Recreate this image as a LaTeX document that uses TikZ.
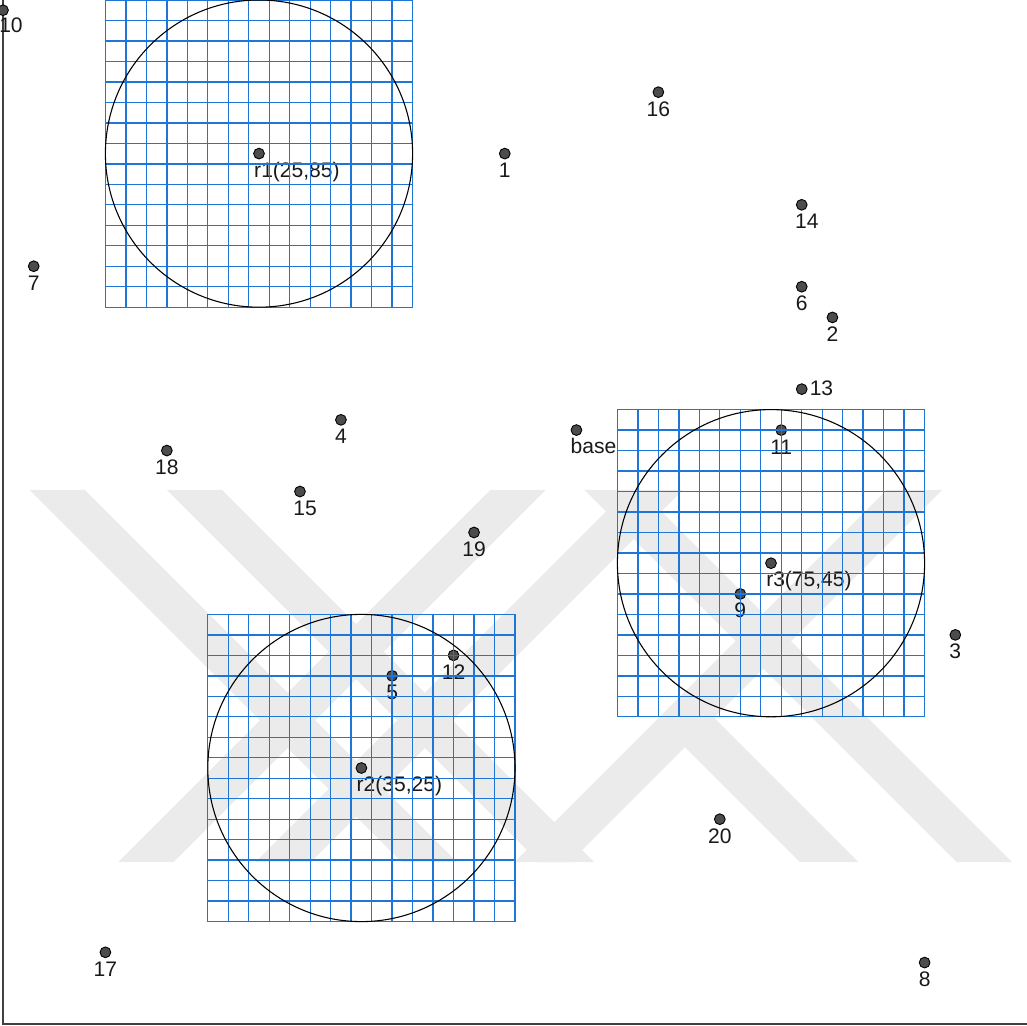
\documentclass[tikz,border=0pt]{standalone}
\usepackage{fontspec}
\setmainfont{Liberation Sans}
\usepackage{xcolor}
\usepackage{tikz}
\usetikzlibrary{positioning}

\definecolor{gridblue}{RGB}{30,118,214}
\definecolor{markgray}{RGB}{235,235,235}

\begin{document}
\begin{tikzpicture}[
  x=0.2cm, y=0.2cm,
  sensor/.style={circle, draw=black, fill=black!70, line width=0.5pt, minimum size=2.1mm, inner sep=0pt},
  lbl/.style={inner sep=0pt, font=\fontsize{11.7}{14}\selectfont, text=black!90},
  gridline/.style={draw=gridblue, line width=0.75pt},
  coverage/.style={draw=black, line width=0.6pt},
  fieldline/.style={draw=black!75, line width=0.7pt},
  wmark/.style={fill=markgray, draw=none}
]
\useasboundingbox (-0.293,-0.098) rectangle (100,100);

% watermark bands
\foreach \l/\d in {2.6/1, 16.0/1, 56.8/1, 47.6/-1, 61.0/-1, 86.3/-1}
  \fill[wmark] (\l,52.15) -- ++(5.4,0) -- ++(\d*36.33,-36.33) -- ++(-5.4,0) -- cycle;
\fill[wmark] (63.9,29.75) -- (66.75,32.6) -- (83.53,15.82) -- (77.83,15.82) -- cycle;

\draw[fieldline] (0,100) -- (0,0) -- (100,0);

% sensor nodes
\foreach \name/\x/\y/\dx in {1/49/85/0, 2/81/69/0, 3/93/38/0, 4/33/59/0, 5/38/34/0,
    6/78/72/0, 7/3/74/0, 8/90/6/0, 9/72/42/0, 11/76/58/0, 12/44/36/0,
    14/78/80/0.5, 15/29/52/0.5, 16/64/91/0, 17/10/7/0, 18/16/56/0,
    19/46/48/0, 20/70/20/0} {
  \node[sensor] (p\name) at (\x,\y) {};
  \node[lbl, anchor=base] (l\name) at ([shift={(\dx,-2.35)}]p\name.center) {\name};
}
\node[sensor] (p10) at (0,99) {};
\node[lbl, anchor=base west] (l10) at ([shift={(-0.4,-2.2)}]p10.center) {10};
\node[sensor] (p13) at (78,62) {};
\node[lbl, anchor=base west] (l13) at ([shift={(0.75,-0.65)}]p13.center) {13};
\node[sensor] (base) at (56,58) {};
\node[lbl, anchor=base west] (lbase) at ([shift={(-0.6,-2.3)}]base.center) {base};

% rendezvous points
\foreach \r/\x/\y in {1/25/85, 2/35/25, 3/75/45} {
  \node[sensor] (r\r) at (\x,\y) {};
  \node[lbl, anchor=base west] (lr\r) at ([shift={(-0.5,-2.3)}]r\r.center) {r\r(\x,\y)};
}

% coverage grids and circles
\foreach \r/\x/\y in {1/25/85, 2/35/25, 3/75/45} {
  \draw[gridline] (\x-15,\y-15) grid[step=2] (\x+15,\y+15);
  \draw[coverage] (r\r.center) circle[radius=15];
}
\end{tikzpicture}
\end{document}
